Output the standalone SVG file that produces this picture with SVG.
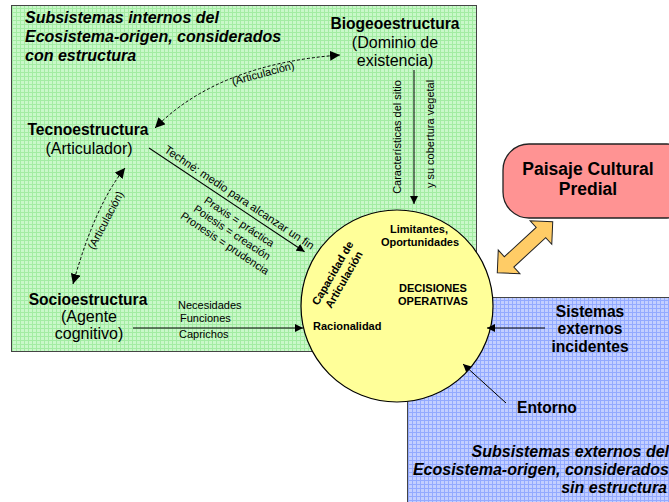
<svg xmlns="http://www.w3.org/2000/svg" width="669" height="502" viewBox="0 0 669 502">
<defs>
<pattern id="gg" width="4" height="4" patternUnits="userSpaceOnUse">
<rect width="4" height="4" fill="#c9f8c9"/>
<path d="M0 0.5H4M0.5 0V4" stroke="#a3eca3" stroke-width="1"/>
</pattern>
<pattern id="bg" width="4" height="4" patternUnits="userSpaceOnUse">
<rect width="4" height="4" fill="#c3cfff"/>
<path d="M0 0.5H4M0.5 0V4" stroke="#93aaff" stroke-width="1"/>
</pattern>
<marker id="ah" viewBox="0 0 10 10" refX="10" refY="5" markerWidth="8" markerHeight="8" markerUnits="userSpaceOnUse" orient="auto-start-reverse">
<path d="M0 0L10 5L0 10Z" fill="#000"/>
</marker>
<marker id="ahb" viewBox="0 0 10 10" refX="10" refY="5" markerWidth="10" markerHeight="10" markerUnits="userSpaceOnUse" orient="auto-start-reverse">
<path d="M0 0L10 5L0 10Z" fill="#000"/>
</marker>
</defs>
<style>
text{font-family:"Liberation Sans",Arial,sans-serif;fill:#000}
.h{font-weight:bold;font-size:15.6px}
.hi{font-weight:bold;font-style:italic;font-size:16px}
.n{font-size:16px}
.s{font-size:11px}
.sb{font-weight:bold;font-size:11px}
.c{text-anchor:middle}
.e{text-anchor:end}
.ln{stroke:#000;stroke-width:1;fill:none}
.dl{stroke:#000;stroke-width:1;fill:none;stroke-dasharray:3,2}
</style>
<rect x="0" y="0" width="669" height="502" fill="#fff"/>
<g id="interno">
<rect x="11.5" y="5.5" width="465" height="346" fill="url(#gg)" stroke="#444" stroke-width="1"/>
<text class="hi" x="25" y="23">Subsistemas internos del</text>
<text class="hi" x="25" y="42">Ecosistema-origen, considerados</text>
<text class="hi" x="25" y="61">con estructura</text>
</g>
<g id="externo">
<rect x="407.5" y="297.5" width="270" height="220" fill="url(#bg)" stroke="#444" stroke-width="1"/>
<text class="hi e" x="669" y="457">Subsistemas externos del</text>
<text class="hi e" x="669" y="475">Ecosistema-origen, considerados</text>
<text class="hi e" x="667" y="493">sin estructura</text>
</g>
<g id="biogeo">
<text class="h c" x="395" y="29">Biogeoestructura</text>
<text class="n c" x="395" y="48">(Dominio de</text>
<text class="n c" x="395" y="66">existencia)</text>
</g>
<g id="tecno">
<text class="h c" x="88" y="135">Tecnoestructura</text>
<text class="n c" x="89" y="154">(Articulador)</text>
</g>
<g id="socio">
<text class="h c" x="88" y="305">Socioestructura</text>
<text class="n c" x="89" y="322">(Agente</text>
<text class="n c" x="89" y="339">cognitivo)</text>
</g>
<g id="paisaje">
<rect x="503" y="144" width="190" height="74" rx="26" ry="26" fill="#ff9393" stroke="#222" stroke-width="1.3"/>
<text class="c" x="588" y="175" style="font-weight:bold;font-size:17.5px">Paisaje Cultural</text>
<text class="c" x="588" y="195" style="font-weight:bold;font-size:17.5px">Predial</text>
</g>
<g id="sistemas">
<text class="h c" x="590" y="317">Sistemas</text>
<text class="h c" x="590" y="334">externos</text>
<text class="h c" x="590" y="352">incidentes</text>
</g>
<g id="entorno">
<text class="h c" x="547" y="413">Entorno</text>
</g>
<g id="decisiones">
<circle cx="397" cy="306" r="96" fill="#ffff99" stroke="#000" stroke-width="1.2"/>
<text class="sb c" x="419" y="233">Limitantes,</text>
<text class="sb c" x="420" y="246">Oportunidades</text>
<text class="sb c" x="433" y="292">DECISIONES</text>
<text class="sb c" x="433" y="305">OPERATIVAS</text>
<text class="sb" x="313" y="330">Racionalidad</text>
<g transform="translate(336,275) rotate(-60)">
<text class="sb c" x="0" y="0">Capacidad de</text>
<text class="sb c" x="0" y="13">Articulación</text>
</g>
</g>
<g id="conectores">
<path class="dl" d="M155,128 Q218,64 340,55" marker-start="url(#ahb)" marker-end="url(#ahb)"/>
<text class="s c" transform="translate(264,77) rotate(-15)">(Articulación)</text>
<path class="dl" d="M125,168 Q95,205 73,284" marker-start="url(#ahb)" marker-end="url(#ahb)"/>
<text class="s c" transform="translate(109,222) rotate(-62)">(Articulación)</text>
<line class="ln" x1="414" y1="70" x2="414" y2="204" marker-end="url(#ah)"/>
<text class="s c" transform="translate(401,137) rotate(-90)">Características del sitio</text>
<text class="s c" transform="translate(434,134) rotate(-90)">y su cobertura vegetal</text>
<g transform="translate(149,148) rotate(33.7)">
<line class="ln" x1="0" y1="0" x2="187" y2="0" marker-end="url(#ah)"/>
<text x="14" y="-5" style="font-size:11.4px">Techné: medio para alcanzar un fin</text>
<text class="s c" x="116" y="15">Praxis = práctica</text>
<text class="s c" x="116" y="28">Poiesis = creación</text>
<text class="s c" x="116" y="41">Pronesis = prudencia</text>
</g>
<line class="ln" x1="133" y1="328" x2="303" y2="328" marker-end="url(#ah)"/>
<text class="s" x="178" y="309">Necesidades</text>
<text class="s" x="180" y="322">Funciones</text>
<text class="s" x="179" y="338">Caprichos</text>
<line class="ln" x1="545" y1="328" x2="487" y2="328" marker-end="url(#ah)"/>
<line class="ln" x1="506" y1="403" x2="463" y2="364" marker-end="url(#ah)"/>
<polygon transform="translate(497.3,272.7) rotate(-42.6)" points="0,0 16,-16 16,-7 59.3,-7 59.3,-16 75.3,0 59.3,16 59.3,7 16,7 16,16" fill="#ffcc66" stroke="#222" stroke-width="1"/>
</g>
</svg>
